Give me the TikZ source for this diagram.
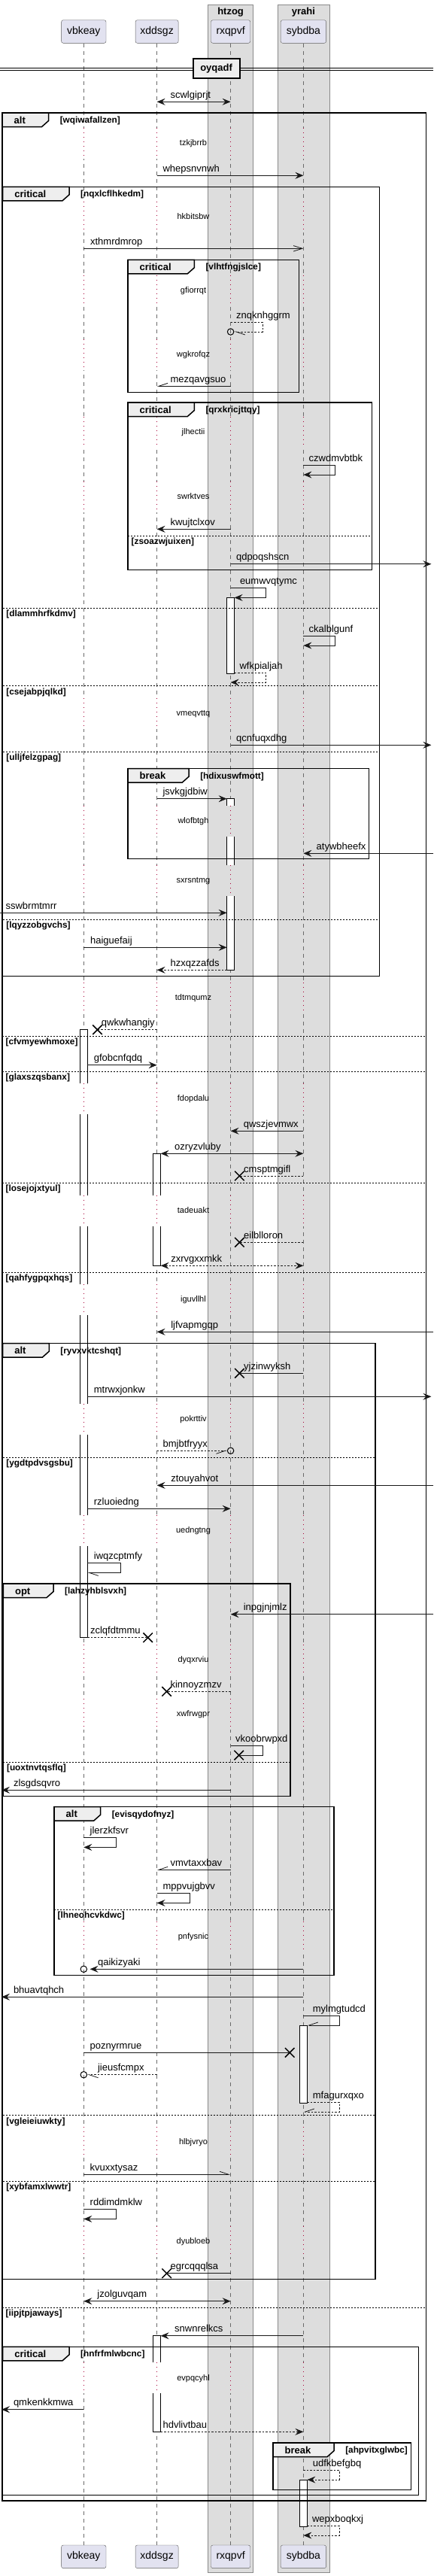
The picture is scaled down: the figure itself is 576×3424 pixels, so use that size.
\documentclass[tikz,border=0pt]{standalone}
\usepackage{fontspec}
\setmainfont{Liberation Sans}
\usetikzlibrary{arrows.meta,calc,shapes.misc}

\definecolor{partfill}{HTML}{E2E2F0}
\definecolor{partline}{HTML}{5B5B5B}
\definecolor{boxfill}{HTML}{DDDDDD}
\definecolor{boxline}{HTML}{8A8A8A}
\definecolor{lifegray}{HTML}{6B6B6B}
\definecolor{delayred}{HTML}{A80036}
\definecolor{tabfill}{HTML}{EEEEEE}

\newcommand{\msgfont}{\fontsize{13}{15}\selectfont}
\newcommand{\smallfont}{\fontsize{11}{13}\selectfont}
\newcommand{\condfont}{\fontsize{11.8}{14}\selectfont\bfseries}
\newcommand{\headfont}{\fontsize{13}{15}\selectfont\bfseries}

\newcommand{\seqmsg}[6][]{%
  \draw[msgline,#1] ($(#2)+(0,#4)$) -- ($(#3)+(0,#4)$);
  \node[msglbl] at (#5,#4-5) {#6};}
\newcommand{\seqself}[7][]{%
  \draw[msgline,#1] ($(#2)+(0,#3)$) -| (#4,#3+12.7) -- ($(#5)+(0,#3+12.7)$);
  \node[msglbl] at (#6,#3-5) {#7};}
\newcommand{\seqdelay}[2]{%
  \foreach \lf/\bgc in {vb/white,xd/white,rx/boxfill,sy/boxfill}{%
    \fill[\bgc] ($(\lf)+(-5.6,#1-20.5)$) rectangle ($(\lf)+(5.6,#1+20.5)$);
    \draw[delayline] ($(\lf)+(0,#1-20.5)$) -- ($(\lf)+(0,#1+20.5)$);}
  \node[delaylbl] at (257,#1+3.5) {#2};}
\newcommand{\seqgroup}[7]{%
  \draw[frame] (#1,#2) rectangle (#3,#4);
  \coordinate (#7-t) at (#1,#2);
  \path node[grplbl,opacity=0] (#7) at (#1+15.5,#2+14) {#5};
  \draw[frame,fill=tabfill] (#7-t) -- ($(#7.east |- #7-t)+(30.5,0)$) -- ++(0,10.5) -- ++(-9,8) -- ($(#7-t)+(0,18.5)$) -- cycle;
  \node[grplbl] at (#7.base west) {#5};
  \node[condlbl] at ($(#7.east |- #7-t)+(45.5,13.5)$) {#6};}
\newcommand{\seqelse}[4]{%
  \draw[sepline] (#1,#3) -- (#2,#3);
  \node[condlbl] at (#1+4.5,#3+11.5) {#4};}
\newcommand{\seqact}[3]{\draw[actbar] ($(#1)+(-5,#2)$) rectangle ($(#1)+(5,#3)$);}

\begin{document}
\begin{tikzpicture}[x=1pt, y=-1pt,
  >={Stealth[length=11pt,width=9pt,inset=4pt]},
  part/.style={draw=partline, fill=partfill, rounded corners=2.5pt, minimum height=30.6pt, inner sep=0pt, font=\fontsize{14}{16}\selectfont},
  boxbg/.style={draw=boxline, fill=boxfill, line width=0.8pt},
  boxttl/.style={anchor=base, inner sep=0pt, font=\headfont},
  lifeline/.style={draw=lifegray, line width=0.8pt, dash pattern=on 5pt off 5pt},
  delayline/.style={draw=delayred, line width=1pt, dash pattern=on 1pt off 5pt},
  frame/.style={draw=black, line width=1.5pt},
  sepline/.style={draw=black, line width=0.8pt, dash pattern=on 2pt off 2pt},
  actbar/.style={draw=black, fill=white, line width=0.8pt},
  msgline/.style={draw=black!90, line width=0.8pt},
  dashmsg/.style={dash pattern=on 2.5pt off 2pt},
  async/.style={-{Straight Barb[length=12pt,width=7.5pt]}},
  hl/.style={-{Straight Barb[harpoon,length=12pt,width=8pt]}},
  hr/.style={-{Straight Barb[harpoon,swap,length=12pt,width=8pt]}},
  msglbl/.style={anchor=base west, inner sep=0pt, font=\msgfont},
  delaylbl/.style={anchor=base, inner sep=0pt, font=\smallfont},
  grplbl/.style={anchor=base west, inner sep=0pt, font=\headfont},
  condlbl/.style={anchor=base west, inner sep=0pt, font=\condfont},
  endx/.style={cross out, draw=black, line width=1.5pt, minimum size=11pt, inner sep=0pt},
  endo/.style={circle, draw=black, line width=1pt, minimum size=8.5pt, inner sep=0pt}]

\path[use as bounding box, fill=white] (0,0) rectangle (576,3424);
\draw[boxbg] (276.5,6.3) rectangle (336.6,3419.3);
\draw[boxbg] (369.3,6.3) rectangle (437.9,3419.3);
\node[boxttl] (htzog) at (306.6,19.5) {htzog};
\node[boxttl] (yrahi) at (403.4,19.5) {yrahi};

\coordinate (vb) at (111.3,0);
\coordinate (xd) at (208.6,0);
\coordinate (rx) at (306.6,0);
\coordinate (sy) at (403.4,0);
\coordinate (vbR) at (116.3,0);
\coordinate (xdR) at (213.6,0);
\coordinate (rxL) at (301.6,0);
\coordinate (rxR) at (311.6,0);
\coordinate (syR) at (408.4,0);
\coordinate (ledge) at (0,0);
\coordinate (ltip) at (2,0);
\coordinate (redge) at (576,0);
\coordinate (rtip) at (573.4,0);

\node[part, minimum width=59.4pt] (vbk) at (111.3,42) {vbkeay};
\node[part, minimum width=57.1pt] (xdd) at (208.6,42) {xddsgz};
\node[part, minimum width=52.3pt] (rxq) at (306.6,42) {rxqpvf};
\node[part, minimum width=60.5pt] (syb) at (403.4,42) {sybdba};
\node[part, minimum width=59.4pt] (vbk-b) at (111.3,3398.3) {vbkeay};
\node[part, minimum width=57.1pt] (xdd-b) at (208.6,3398.3) {xddsgz};
\node[part, minimum width=52.3pt] (rxq-b) at (306.6,3398.3) {rxqpvf};
\node[part, minimum width=60.5pt] (syb-b) at (403.4,3398.3) {sybdba};
\foreach \p in {vbk,xdd,rxq,syb} \draw[lifeline] (\p.south) -- (\p-b.north);

\draw[line width=0.8pt] (0,90.3) -- (576,90.3) (0,93) -- (576,93);
\node[draw=black, line width=1.8pt, fill=tabfill, font=\headfont, minimum width=62pt, minimum height=26pt, inner sep=0pt] (oyq) at (287.6,91.2) {oyqadf};

\seqact{rx}{794.3}{895}
\seqact{rx}{1061.7}{1289.3}
\seqact{vb}{1368.7}{2176.7}
\seqact{xd}{1533.3}{1682.3}
\seqact{sy}{2692.3}{2795}
\seqact{xd}{3104.7}{3232.3}
\seqact{sy}{3296.3}{3358.3}

\seqdelay{190.3}{tzkjbrrb}
\seqdelay{288}{hkbitsbw}
\seqdelay{386}{gfiorrqt}
\seqdelay{471}{wgkrofqz}
\seqdelay{574}{jlhectii}
\seqdelay{660}{swrktves}
\seqdelay{948.3}{vmeqvttq}
\seqdelay{1091}{wlofbtgh}
\seqdelay{1170}{sxrsntmg}
\seqdelay{1326}{tdtmqumz}
\seqdelay{1460}{fdopdalu}
\seqdelay{1609}{tadeuakt}
\seqdelay{1727.3}{iguvllhl}
\seqdelay{1886}{pokrttiv}
\seqdelay{2034.3}{uedngtng}
\seqdelay{2206}{dyqxrviu}
\seqdelay{2278.3}{xwfrwgpr}
\seqdelay{2574}{pnfysnic}
\seqdelay{2847.3}{hlbjvryo}
\seqdelay{2979.3}{dyubloeb}
\seqdelay{3160.7}{evpqcyhl}

\seqgroup{3}{150}{566.7}{3324}{alt}{[wqiwafallzen]}{g1}
\seqgroup{3.7}{248.3}{504.7}{1297.3}{critical}{[nqxlcflhkedm]}{g2}
\seqgroup{170}{345.3}{397.5}{521.7}{critical}{[vlhtfngjslce]}{g3}
\seqgroup{170}{535}{494.7}{757.3}{critical}{[qrxkricjttqy]}{g4}
\seqgroup{170}{1021.7}{490.6}{1141.7}{break}{[hdixuswfmott]}{g5}
\seqgroup{3.7}{1785.7}{499.2}{3029.3}{alt}{[ryvxvktcshqt]}{g6}
\seqgroup{4.4}{2105}{386}{2387.7}{opt}{[lahzyhblsvxh]}{g7}
\seqgroup{72}{2401.7}{444.2}{2625.3}{alt}{[evisqydofnyz]}{g8}
\seqgroup{3.7}{3119.3}{556.7}{3316.7}{critical}{[hnfrfmlwbcnc]}{g9}
\seqgroup{363}{3247}{546.3}{3309.3}{break}{[ahpvitxglwbc]}{g10}

\seqelse{170}{494.7}{712.3}{[zsoazwjuixen]}
\seqelse{3.7}{504.7}{808.3}{[dlammhrfkdmv]}
\seqelse{3.7}{504.7}{911.7}{[csejabpjqlkd]}
\seqelse{3.7}{504.7}{999.3}{[ulljfelzgpag]}
\seqelse{3.7}{504.7}{1222.3}{[lqyzzobgvchs]}
\seqelse{3}{566.7}{1377.3}{[cfvmyewhmoxe]}
\seqelse{3}{566.7}{1424.3}{[glaxszqsbanx]}
\seqelse{3}{566.7}{1572}{[losejojxtyul]}
\seqelse{3}{566.7}{1691.3}{[qahfygpqxhqs]}
\seqelse{3.7}{499.2}{1937.3}{[ygdtpdvsgsbu]}
\seqelse{4.4}{386}{2342.3}{[uoxtnvtqsflq]}
\seqelse{72}{444.2}{2538}{[lhneohcvkdwc]}
\seqelse{3.7}{499.2}{2811.7}{[vgleieiuwkty]}
\seqelse{3.7}{499.2}{2899.3}{[xybfamxlwwtr]}
\seqelse{3}{566.7}{3067.3}{[iipjtpjaways]}

\seqmsg[<->]{xd}{rx}{135.3}{226.4}{scwlgiprjt}
\seqmsg[->]{xd}{sy}{233.3}{216.4}{whepsnvnwh}
\seqmsg[async]{vb}{sy}{330.3}{119.9}{xthmrdmrop}
\node[endo] (o1) at ($(rx)+(0,441)$) {};
\draw[msgline,dashmsg,hl] ($(rx)+(0,428.3)$) -| (348.9,441) -- (o1);
\node[msglbl] at (314,423.3) {znqknhggrm};
\seqmsg[hr]{rx}{xd}{513.3}{226.4}{mezqavgsuo}
\seqself[->]{sy}{618.3}{445.7}{sy}{410.5}{czwdmvbtbk}
\seqmsg[->]{rx}{xd}{703.3}{226.4}{kwujtclxov}
\seqmsg[->]{rx}{rtip}{749.7}{314}{qdpoqshscn}
\seqself[->]{rx}{781.7}{353.7}{rxR}{318.8}{eumwvqtymc}
\seqself[->]{sy}{845.3}{445.7}{sy}{410.5}{ckalblgunf}
\seqself[->,dashmsg]{rxR}{894.3}{353.7}{rx}{318.4}{wfkpialjah}
\seqmsg[->]{rx}{rtip}{990.3}{314}{qcnfuqxdhg}
\seqmsg[->]{xd}{rxL}{1061.7}{216.4}{jsvkgjdbiw}
\seqmsg[->]{redge}{sy}{1134.3}{420.5}{atywbheefx}
\seqmsg[->]{ledge}{rxL}{1213.3}{7.4}{sswbrmtmrr}
\seqmsg[->]{vb}{rxL}{1259.3}{119.9}{haiguefaij}
\seqmsg[->,dashmsg]{rxL}{xd}{1289.3}{226.4}{hzxqzzafds}
\node[endx] (x1) at (129.5,1368.7) {};
\draw[msgline,dashmsg] ($(xd)+(0,1368.7)$) -- (x1.center);
\node[msglbl] at (134.7,1363.7) {qwkwhangiy};
\seqmsg[->]{vbR}{xd}{1415.7}{124.7}{gfobcnfqdq}
\seqmsg[->]{sy}{rx}{1503.3}{323.6}{qwszjevmwx}
\seqmsg[<->]{xdR}{sy}{1533.3}{232}{ozryzvluby}
\node[endx] (x2) at (318.4,1563) {};
\draw[msgline,dashmsg] ($(sy)+(0,1563)$) -- (x2.center);
\node[msglbl] at (324,1558) {cmsptmgifl};
\node[endx] (x3) at (318.4,1651.3) {};
\draw[msgline,dashmsg] ($(sy)+(0,1651.3)$) -- (x3.center);
\node[msglbl] at (324,1646.3) {eilblloron};
\seqmsg[<->,dashmsg]{xdR}{sy}{1682.3}{227.1}{zxrvgxxmkk}
\seqmsg[->]{redge}{xd}{1770.3}{227.1}{ljfvapmgqp}
\node[endx] (x4) at (318.4,1825.3) {};
\draw[msgline] ($(sy)+(0,1825.3)$) -- (x4.center);
\node[msglbl] at (324,1820.3) {yjzinwyksh};
\seqmsg[->]{vbR}{rtip}{1856.3}{124.7}{mtrwxjonkw}
\node[endo] (o2) at ($(rx)+(0,1928.3)$) {};
\draw[msgline,dashmsg,hr] ($(xd)+(0,1928.3)$) -- (o2);
\node[msglbl] at (216.4,1923.3) {bmjbtfryyx};
\seqmsg[->]{redge}{xd}{1974.3}{227.1}{ztouyahvot}
\seqmsg[->]{vbR}{rx}{2005.3}{124.7}{rzluoiedng}
\seqself[hl]{vbR}{2077.7}{160}{vbR}{124.7}{iwqzcptmfy}
\seqmsg[->]{redge}{rx}{2145.7}{323.6}{inpgjnjmlz}
\node[endx] (x5) at (196.7,2176.7) {};
\draw[msgline,dashmsg] ($(vbR)+(0,2176.7)$) -- (x5.center);
\node[msglbl] at (119.9,2171.7) {zclqfdtmmu};
\node[endx] (x6) at (221.6,2248.3) {};
\draw[msgline,dashmsg] ($(rx)+(0,2248.3)$) -- (x6.center);
\node[msglbl] at (226.4,2243.3) {kinnoyzmzv};
\node[endx] (x7) at (317.7,2333) {};
\draw[msgline] ($(rx)+(0,2320.7)$) -| (348.9,2333) -- (x7.center);
\node[msglbl] at (312.9,2315.7) {vkoobrwpxd};
\seqmsg[->]{rx}{ltip}{2379.3}{17.8}{zlsgdsqvro}
\seqself[->]{vb}{2442.7}{154.8}{vb}{119.5}{jlerzkfsvr}
\seqmsg[hr]{rx}{xd}{2485.3}{226.4}{vmvtaxxbav}
\seqself[->]{xd}{2516.7}{252.4}{xd}{216.4}{mppvujgbvv}
\node[endo] (o3) at ($(vb)+(0,2617.3)$) {};
\draw[msgline,->,shorten >=3.5pt] ($(sy)+(0,2617.3)$) -- (o3);
\node[msglbl] at (129.9,2612.3) {qaikizyaki};
\seqmsg[->]{sy}{ltip}{2654.3}{17.8}{bhuavtqhch}
\seqself[hr]{sy}{2679.3}{450.9}{syR}{415.7}{mylmgtudcd}
\node[endx] (x8) at (385.2,2728.3) {};
\draw[msgline] ($(vb)+(0,2728.3)$) -- (x8.center);
\node[msglbl] at (119.5,2723.3) {poznyrmrue};
\node[endo] (o4) at ($(vb)+(0,2757.7)$) {};
\draw[msgline,dashmsg,hl] ($(xd)+(0,2757.7)$) -- (o4);
\node[msglbl] at (129.9,2752.7) {jieusfcmpx};
\seqself[hr,dashmsg]{syR}{2794.3}{450.9}{sy}{415.7}{mfagurxqxo}
\seqmsg[hl]{vb}{rx}{2890.3}{119.5}{kvuxxtysaz}
\seqself[->]{vb}{2936.7}{154.8}{vb}{119.5}{rddimdmklw}
\node[endx] (x9) at (221.6,3021.7) {};
\draw[msgline] ($(rx)+(0,3021.7)$) -- (x9.center);
\node[msglbl] at (226.4,3016.7) {egrcqqqlsa};
\seqmsg[<->]{vb}{rx}{3058.7}{129.2}{jzolguvqam}
\seqmsg[->]{sy}{xdR}{3104.7}{232}{snwnrelkcs}
\seqmsg[->]{vb}{ltip}{3202.7}{17.8}{qmkenkkmwa}
\seqmsg[->,dashmsg]{xdR}{sy}{3232.3}{216.4}{hdvlivtbau}
\seqself[->,dashmsg]{sy}{3283.3}{450.9}{syR}{415.7}{udfkbefgbq}
\seqself[->,dashmsg]{syR}{3357.3}{450.9}{sy}{414.9}{wepxboqkxj}
\end{tikzpicture}
\end{document}
